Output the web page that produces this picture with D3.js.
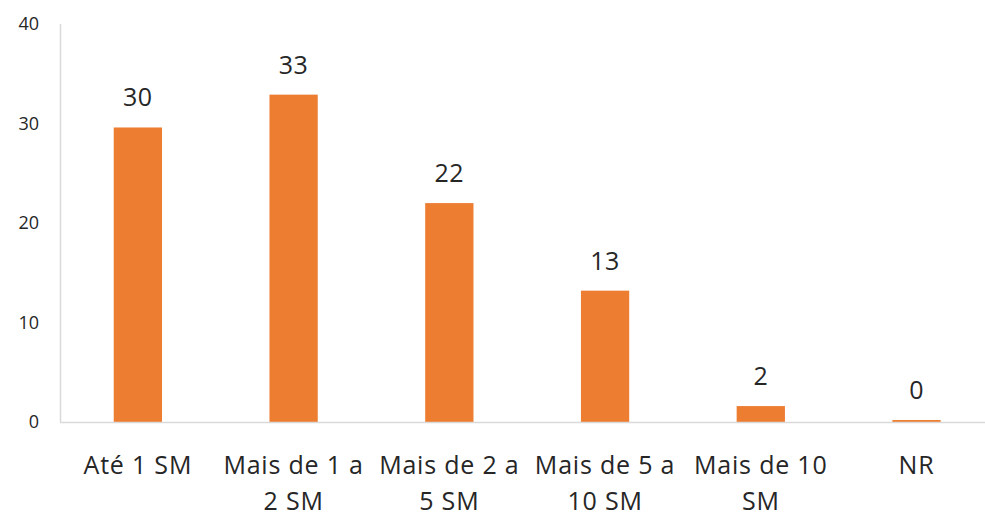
<!DOCTYPE html>
<html>
<head>
<meta charset="utf-8">
<script src="https://cdn.jsdelivr.net/npm/d3@7"></script>
<style>
body{margin:0;background:#fff}
text{font-family:"Open Sans",sans-serif;fill:#262626}
</style>
</head>
<body>
<svg id="graph"></svg>
<script>
var categories=["Até 1 SM","Mais de 1 a 2 SM","Mais de 2 a 5 SM","Mais de 5 a 10 SM","Mais de 10 SM","NR"]
var values=[29.6,32.9,22.0,13.2,1.6,0.2]
var valueLabels=["30","33","22","13","2","0"]
var yTicks=[0,10,20,30,40]

var screen={width:985,height:518}
var svg=d3.select("#graph")
    .attr("width",screen.width)
    .attr("height",screen.height)

var xScale=d3.scaleBand()
    .domain(categories)
    .range([60,994.4])
    .paddingInner(0.69)
    .paddingOuter(0.345)

var yScale=d3.scaleLinear()
    .domain([0,40])
    .range([422,24])

// y axis: gray line + labels, no tick marks
svg.append("line")
    .attr("x1",60.5).attr("x2",60.5)
    .attr("y1",yScale(40)).attr("y2",yScale(0))
    .attr("stroke","#d9d9d9").attr("stroke-width",1.5)

svg.selectAll(".ytick")
    .data(yTicks)
    .enter()
    .append("text")
    .attr("class","ytick")
    .attr("x",39)
    .attr("y",function(d){return yScale(d)})
    .attr("dy","0.35em")
    .attr("text-anchor","end")
    .style("font-size","18px")
    .text(function(d){return d})

// bars
svg.selectAll("rect")
    .data(values)
    .enter()
    .append("rect")
    .attr("x",function(d,i){return xScale(categories[i])})
    .attr("width",xScale.bandwidth())
    .attr("y",function(d){return yScale(d)})
    .attr("height",function(d){return yScale(0)-yScale(d)})
    .attr("fill","#ED7D31")

// baseline
svg.append("line")
    .attr("x1",60).attr("x2",screen.width)
    .attr("y1",422.5).attr("y2",422.5)
    .attr("stroke","#d9d9d9").attr("stroke-width",1.5)

// value labels
svg.selectAll(".vlab")
    .data(values)
    .enter()
    .append("text")
    .attr("class","vlab")
    .attr("x",function(d,i){return xScale(categories[i])+xScale.bandwidth()/2})
    .attr("y",function(d){return yScale(d)-21})
    .attr("text-anchor","middle")
    .style("font-size","25px")
    .style("letter-spacing","0.5px")
    .text(function(d,i){return valueLabels[i]})

// category labels, wrapped to the band step
var cat=svg.selectAll(".xlab")
    .data(categories)
    .enter()
    .append("text")
    .attr("class","xlab")
    .attr("x",function(d){return xScale(d)+xScale.bandwidth()/2})
    .attr("y",474)
    .attr("text-anchor","middle")
    .style("font-size","25px")
    .style("letter-spacing","0.8px")

cat.each(function(d){
    var el=d3.select(this)
    var words=d.split(" ")
    var line=[]
    var lineNo=0
    var x=el.attr("x")
    var tspan=el.append("tspan").attr("x",x).attr("y",474)
    words.forEach(function(w){
        line.push(w)
        tspan.text(line.join(" "))
        if(tspan.node().getComputedTextLength()>xScale.step() && line.length>1){
            line.pop()
            tspan.text(line.join(" "))
            line=[w]
            lineNo++
            tspan=el.append("tspan").attr("x",x).attr("y",474+lineNo*36).text(w)
        }
    })
})
</script>
</body>
</html>
